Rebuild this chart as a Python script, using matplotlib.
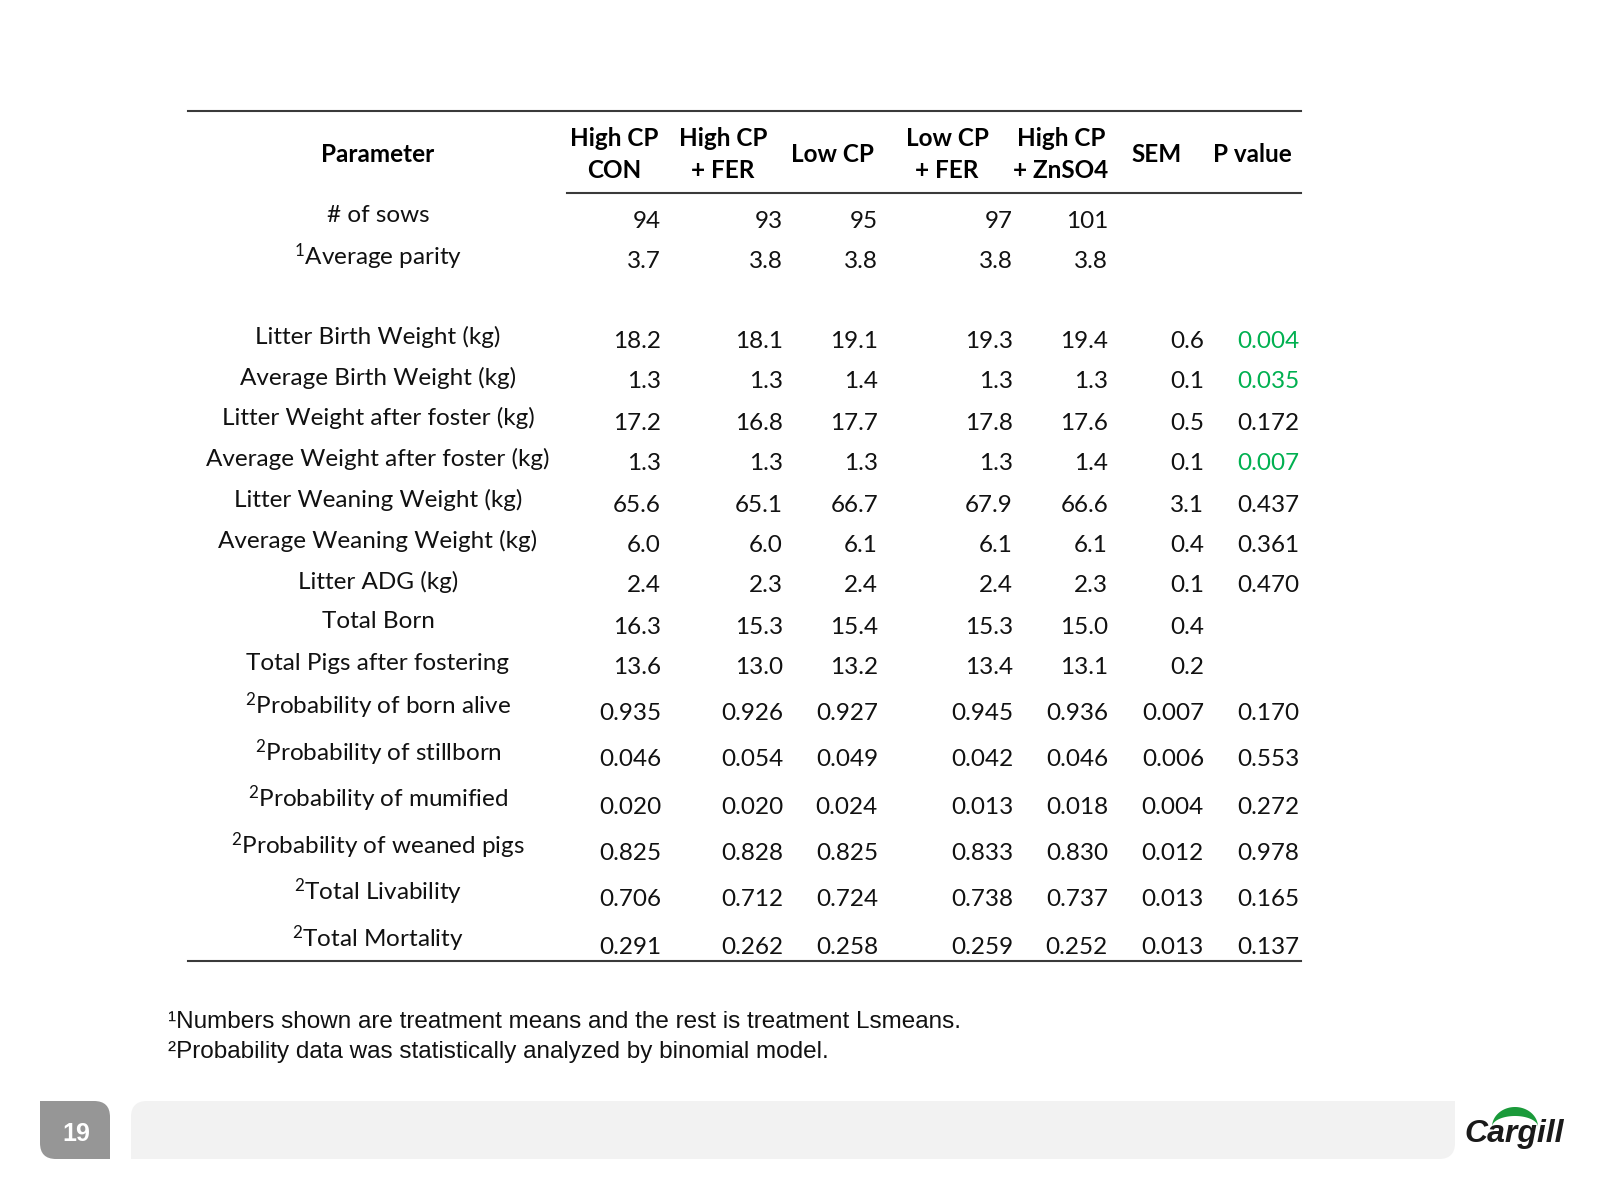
import numpy as np
import matplotlib.pyplot as plt
from matplotlib.patches import FancyBboxPatch, Rectangle, Polygon

plt.rcParams['mathtext.fontset'] = 'custom'
plt.rcParams['mathtext.rm'] = 'Lato'
plt.rcParams['mathtext.it'] = 'Lato:italic'
plt.rcParams['mathtext.bf'] = 'Lato:bold'
plt.rcParams['mathtext.default'] = 'regular'

FONT = 'Lato'
GREEN = '#00b050'

headers = [['High CP', 'CON'], ['High CP', '+ FER'], ['Low CP'], ['Low CP', '+ FER'],
           ['High CP', '+ ZnSO4'], ['SEM'], ['P value']]

params = ['# of sows', '$^1$Average parity',
          'Litter Birth Weight (kg)', 'Average Birth Weight (kg)',
          'Litter Weight after foster (kg)', 'Average Weight after foster (kg)',
          'Litter Weaning Weight (kg)', 'Average Weaning Weight (kg)',
          'Litter ADG (kg)', 'Total Born', 'Total Pigs after fostering',
          '$^2$Probability of born alive', '$^2$Probability of stillborn',
          '$^2$Probability of mumified', '$^2$Probability of weaned pigs',
          '$^2$Total Livability', '$^2$Total Mortality']

high_cp_con = ['94', '3.7', '18.2', '1.3', '17.2', '1.3', '65.6', '6.0', '2.4', '16.3', '13.6',
               '0.935', '0.046', '0.020', '0.825', '0.706', '0.291']
high_cp_fer = ['93', '3.8', '18.1', '1.3', '16.8', '1.3', '65.1', '6.0', '2.3', '15.3', '13.0',
               '0.926', '0.054', '0.020', '0.828', '0.712', '0.262']
low_cp = ['95', '3.8', '19.1', '1.4', '17.7', '1.3', '66.7', '6.1', '2.4', '15.4', '13.2',
          '0.927', '0.049', '0.024', '0.825', '0.724', '0.258']
low_cp_fer = ['97', '3.8', '19.3', '1.3', '17.8', '1.3', '67.9', '6.1', '2.4', '15.3', '13.4',
              '0.945', '0.042', '0.013', '0.833', '0.738', '0.259']
high_cp_zn = ['101', '3.8', '19.4', '1.3', '17.6', '1.4', '66.6', '6.1', '2.3', '15.0', '13.1',
              '0.936', '0.046', '0.018', '0.830', '0.737', '0.252']
sem = ['', '', '0.6', '0.1', '0.5', '0.1', '3.1', '0.4', '0.1', '0.4', '0.2',
       '0.007', '0.006', '0.004', '0.012', '0.013', '0.013']
p_value = ['', '', '0.004', '0.035', '0.172', '0.007', '0.437', '0.361', '0.470', '', '',
           '0.170', '0.553', '0.272', '0.978', '0.165', '0.137']

footnotes = ['¹Numbers shown are treatment means and the rest is treatment Lsmeans.',
             '²Probability data was statistically analyzed by binomial model.']

# layout (pixels)
val_y = [221, 262, 341, 382, 423, 464, 505, 546, 586, 627, 668, 714, 760, 807, 854, 900, 947]
lab_y = [216, 257, 337, 378, 418, 459, 500, 541, 582, 622, 663, 706, 753, 799, 846, 892, 939]
col_right = [661, 783, 878, 1013, 1108, 1204, 1299]
head_x = [614, 723, 832, 947, 1061, 1157, 1252]
param_x = 378
fs = 17.5

fig = plt.figure(figsize=(16, 12), dpi=100)
ax = fig.add_axes([0, 0, 1, 1])
ax.set_xlim(0, 1600)
ax.set_ylim(1200, 0)
ax.axis('off')

# rules
ax.plot([188, 1301], [111, 111], color='#3a3a3a', lw=1.5)
ax.plot([567, 1301], [193, 193], color='#3a3a3a', lw=1.5)
ax.plot([188, 1301], [961, 961], color='#3a3a3a', lw=1.5)

# header
ax.text(param_x, 155, 'Parameter', ha='center', va='center', fontsize=fs, fontweight='bold', family=FONT)
for hx, h in zip(head_x, headers):
    if len(h) == 1:
        ax.text(hx, 155, h[0], ha='center', va='center', fontsize=fs, fontweight='bold', family=FONT)
    else:
        ax.text(hx, 139, h[0], ha='center', va='center', fontsize=fs, fontweight='bold', family=FONT)
        ax.text(hx, 171, h[1], ha='center', va='center', fontsize=fs, fontweight='bold', family=FONT)

# body
cols = [high_cp_con, high_cp_fer, low_cp, low_cp_fer, high_cp_zn, sem, p_value]
for i, p in enumerate(params):
    ax.text(param_x, lab_y[i], p, ha='center', va='center', fontsize=fs, family=FONT, color='#111111')
    for j, col in enumerate(cols):
        v = col[i]
        if not v:
            continue
        color = '#111111'
        if j == 6 and float(v) < 0.05:
            color = GREEN
        ax.text(col_right[j], val_y[i], v, ha='right', va='center', fontsize=fs, family=FONT, color=color)

# footnotes
ax.text(168, 1022, footnotes[0], ha='left', va='center', fontsize=17.5, family='Liberation Sans', color='#111111')
ax.text(168, 1052, footnotes[1], ha='left', va='center', fontsize=17.5, family='Liberation Sans', color='#111111')

# footer bar
ax.add_patch(FancyBboxPatch((131, 1101), 1324, 58, boxstyle='round,pad=0,rounding_size=16',
                            facecolor='#f2f2f2', edgecolor='none'))
ax.add_patch(Rectangle((131, 1130), 30, 29, facecolor='#f2f2f2', edgecolor='none'))
ax.add_patch(Rectangle((1425, 1101), 30, 29, facecolor='#f2f2f2', edgecolor='none'))
ax.add_patch(FancyBboxPatch((40, 1101), 70, 58, boxstyle='round,pad=0,rounding_size=16',
                            facecolor='#969696', edgecolor='none'))
ax.add_patch(Rectangle((40, 1101), 30, 29, facecolor='#969696', edgecolor='none'))
ax.add_patch(Rectangle((80, 1130), 30, 29, facecolor='#969696', edgecolor='none'))
ax.text(76, 1134, '19', ha='center', va='center', fontsize=18, fontweight='bold',
        family='Liberation Sans', color='white')

# logo: green leaf arc over the wordmark
t = np.linspace(0, np.pi, 60)
outer = np.column_stack([1515 + 23 * np.cos(t), 1127 - 20 * np.sin(t)])
inner = np.column_stack([1515 + 23 * np.cos(t[::-1]), 1127 - 11 * np.sin(t[::-1])])
ax.add_patch(Polygon(np.vstack([outer, inner]), closed=True, facecolor='#1a9a3a', edgecolor='none'))
ax.text(1514, 1134, 'Cargill', ha='center', va='center', fontsize=23, fontweight='bold',
        style='italic', family='Liberation Sans', color='#1a1a1a')

fig.savefig('out.png', dpi=100)
